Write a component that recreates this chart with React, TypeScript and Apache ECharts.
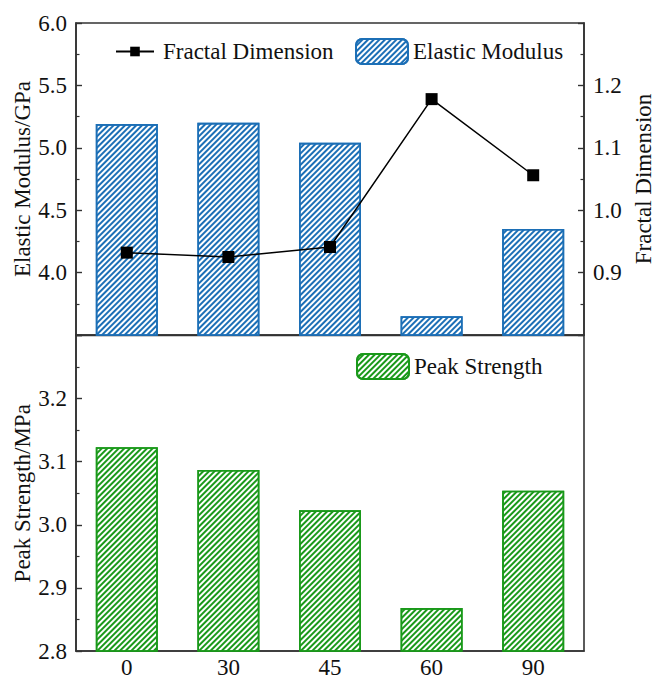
import React, { useEffect, useRef } from "react";
import * as echarts from "echarts";

const categories = ["0", "30", "45", "60", "90"];
const elasticModulus = [5.19, 5.2, 5.04, 3.65, 4.35];
const fractalDimension = [0.932, 0.925, 0.941, 1.178, 1.056];
const peakStrength = [3.123, 3.087, 3.023, 2.868, 3.054];

const BLUE = "#1c6fb6";
const GREEN = "#1a991a";
const AXIS = "#333333";
const FONT = "Liberation Serif";

export default function App() {
  const ref = useRef<HTMLDivElement>(null);
  useEffect(() => {
    if (!ref.current) return;
    const chart = echarts.init(ref.current, null, { renderer: "svg" });
    const fmt = (v: number) => v.toFixed(1);
    const axisLine = { show: true, lineStyle: { color: AXIS, width: 1.6 } };
    const label = { color: "#111", fontSize: 23, fontFamily: FONT };
    const valueAxisCommon = (gridIndex: number, position: string) => ({
      type: "value",
      gridIndex,
      position,
      axisLine,
      axisTick: { show: true, inside: true, length: 6, lineStyle: { color: AXIS, width: 1.4 } },
      minorTick: { show: true, splitNumber: 2, length: 3.5, lineStyle: { color: AXIS, width: 1.2 } },
      splitLine: { show: false },
      nameLocation: "middle",
      nameRotate: 90,
      nameMoveOverlap: false,
      nameTextStyle: { color: "#111", fontSize: 23, fontFamily: FONT, lineHeight: 16 },
    });
    const decal = (color: string) => ({
      symbol: "rect",
      symbolSize: 1,
      color,
      dashArrayX: [1, 0],
      dashArrayY: [2, 2],
      rotation: -Math.PI / 4,
    });
    const legendText = { color: "#111", fontSize: 23, fontFamily: FONT };
    const gridCommon = {
      left: 76,
      right: 70,
      show: true,
      borderColor: AXIS,
      borderWidth: 1.6,
      backgroundColor: "transparent",
      containLabel: false,
      outerBoundsMode: "none",
    };
    chart.setOption({
      animation: false,
      backgroundColor: "#fff",
      textStyle: { fontFamily: FONT },
      grid: [
        { ...gridCommon, top: 23, height: 312 },
        { ...gridCommon, top: 335.5, height: 315.5 },
      ],
      legend: [
        {
          data: ["Fractal Dimension"],
          left: 115,
          top: 40,
          padding: 0,
          itemWidth: 38,
          itemHeight: 12,
          textStyle: { ...legendText, padding: [0, 0, 0, 4] },
        },
        {
          data: ["Elastic Modulus"],
          left: 355,
          top: 38,
          padding: 0,
          itemWidth: 52,
          itemHeight: 25,
          textStyle: legendText,
        },
        {
          data: ["Peak Strength"],
          left: 356,
          top: 353,
          padding: 0,
          itemWidth: 52,
          itemHeight: 25,
          textStyle: legendText,
        },
      ],
      xAxis: [
        {
          type: "category",
          gridIndex: 0,
          data: categories,
          axisLine,
          axisTick: { show: true, inside: true, alignWithLabel: true, length: 6, lineStyle: { color: AXIS, width: 1.4 } },
          axisLabel: { show: false },
        },
        {
          type: "category",
          gridIndex: 1,
          data: categories,
          axisLine,
          axisTick: { show: true, inside: true, alignWithLabel: true, length: 6, lineStyle: { color: AXIS, width: 1.4 } },
          axisLabel: { ...label, margin: 8, lineHeight: 16 },
        },
      ],
      yAxis: [
        {
          ...valueAxisCommon(0, "left"),
          min: 3.5,
          max: 6.0,
          interval: 0.5,
          name: "Elastic Modulus/GPa",
          nameGap: 46,
          axisLabel: { ...label, margin: 9, formatter: fmt, showMinLabel: false },
        },
        {
          ...valueAxisCommon(0, "right"),
          min: 0.8,
          max: 1.3,
          interval: 0.1,
          name: "Fractal Dimension",
          nameGap: 51,
          axisLabel: { ...label, margin: 9, formatter: fmt, showMinLabel: false, showMaxLabel: false },
        },
        {
          ...valueAxisCommon(1, "left"),
          min: 2.8,
          max: 3.3,
          interval: 0.1,
          name: "Peak Strength/MPa",
          nameGap: 46,
          axisLabel: { ...label, margin: 9, formatter: fmt, showMaxLabel: false },
        },
      ],
      series: [
        {
          name: "Elastic Modulus",
          type: "bar",
          xAxisIndex: 0,
          yAxisIndex: 0,
          data: elasticModulus,
          barWidth: 62,
          itemStyle: { color: "#fff", borderColor: BLUE, borderWidth: 1.6, decal: decal(BLUE) },
        },
        {
          name: "Fractal Dimension",
          type: "line",
          xAxisIndex: 0,
          yAxisIndex: 1,
          data: fractalDimension,
          symbol: "rect",
          symbolSize: 12,
          z: 5,
          lineStyle: { color: "#000", width: 1.5 },
          itemStyle: { color: "#000" },
        },
        {
          name: "Peak Strength",
          type: "bar",
          xAxisIndex: 1,
          yAxisIndex: 2,
          data: peakStrength,
          barWidth: 62,
          itemStyle: { color: "#fff", borderColor: GREEN, borderWidth: 1.6, decal: decal(GREEN) },
        },
      ],
    });
    return () => chart.dispose();
  }, []);
  return (
    <div
      ref={ref}
      style={{ position: "fixed", left: 0, top: 0, width: 654, height: 678, background: "#fff" }}
    />
  );
}
